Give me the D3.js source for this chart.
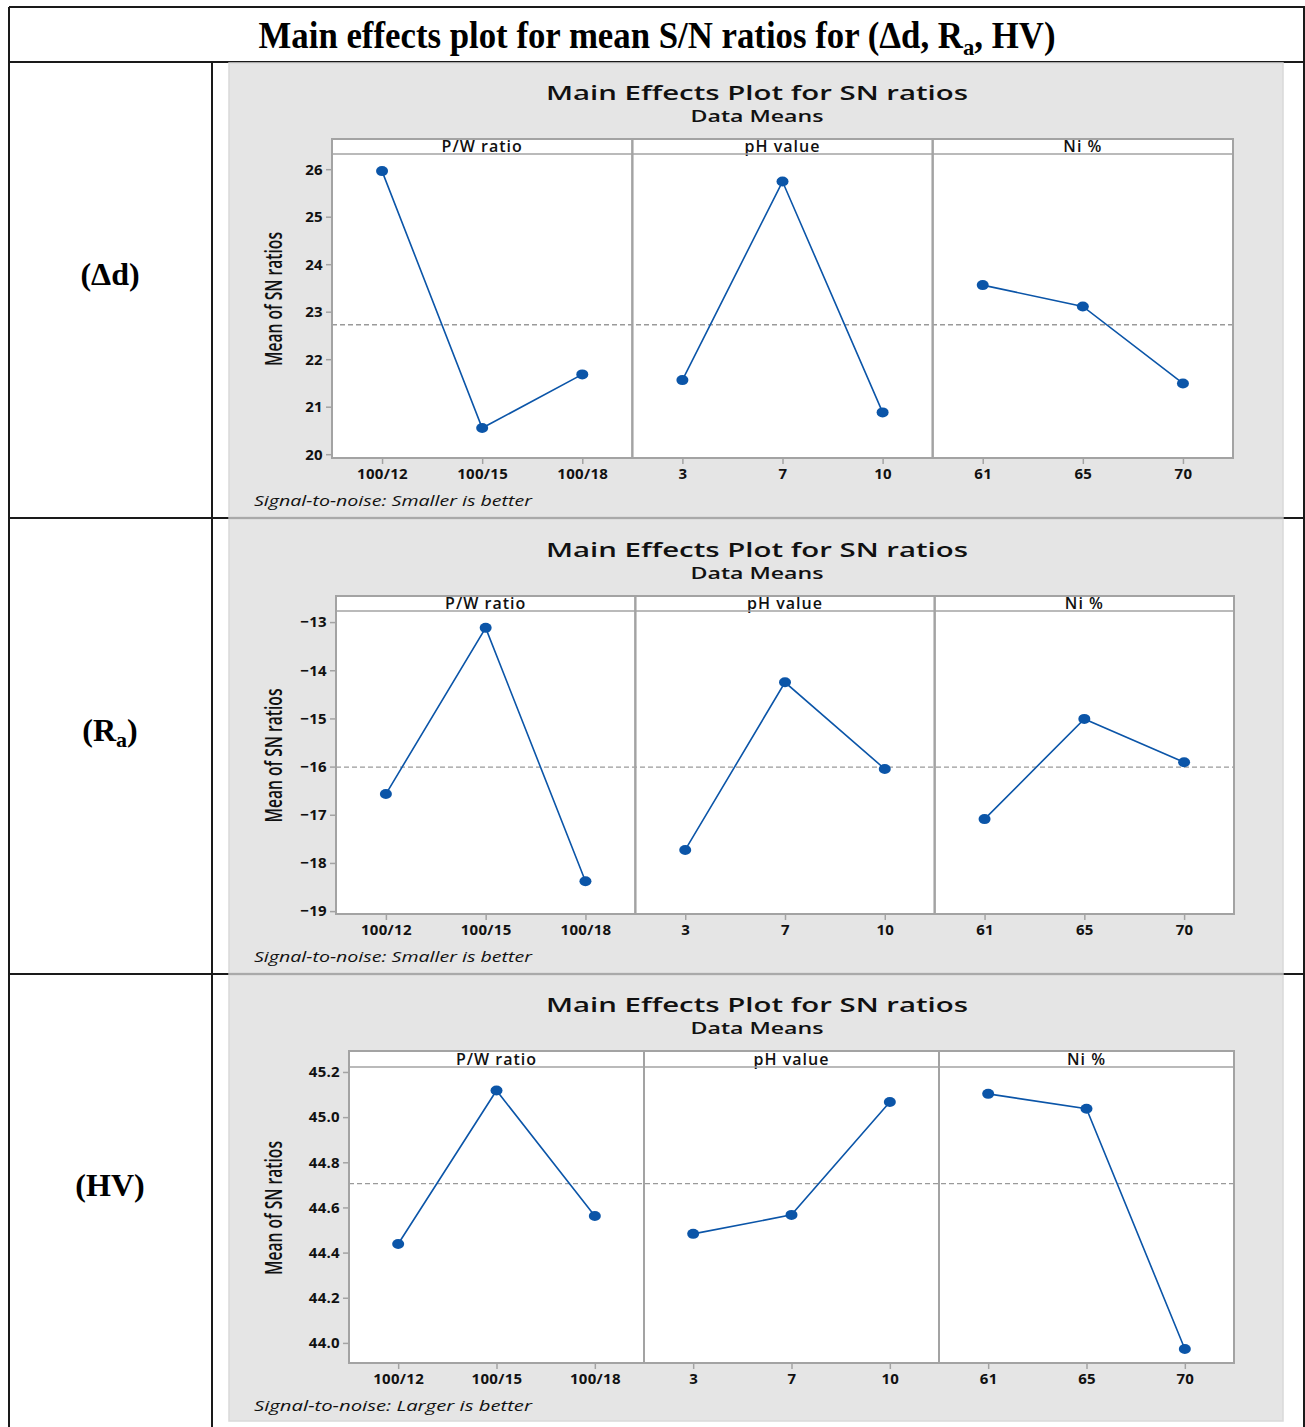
<!DOCTYPE html>
<html>
<head>
<meta charset="utf-8">
<script src="https://cdn.jsdelivr.net/npm/d3@7"></script>
<style>
  html, body { margin: 0; padding: 0; background: #fff; }
  svg { display: block; }
</style>
</head>
<body>
<svg id="chart" width="1305" height="1427"></svg>
<script>
// Factors and their levels (shared by all three responses)
const factors = ["P/W ratio", "pH value", "Ni %"];
const levels = [
  ["100/12", "100/15", "100/18"],
  ["3", "7", "10"],
  ["61", "65", "70"]
];

// Mean S/N ratio per factor level, for each response
const snDelta = [[25.96, 20.55, 21.68], [21.56, 25.74, 20.88], [23.56, 23.11, 21.49]];
const snRa    = [[-16.57, -13.12, -18.38], [-17.73, -14.25, -16.05], [-17.09, -15.01, -15.91]];
const snHV    = [[44.438, 45.118, 44.562], [44.483, 44.567, 45.067], [45.103, 45.037, 43.973]];

// Y axis ticks and extents
const ticksDelta = [20, 21, 22, 23, 24, 25, 26];
const ticksRa    = [-19, -18, -17, -16, -15, -14, -13];
const ticksHV    = [44.0, 44.2, 44.4, 44.6, 44.8, 45.0, 45.2];
const domainDelta = [19.92, 26.32];
const domainRa    = [-19.06, -12.77];
const domainHV    = [43.911, 45.222];

const noteSmaller = "Signal-to-noise: Smaller is better";
const noteLarger  = "Signal-to-noise: Larger is better";

const svg = d3.select("#chart");

const blue = "#0b55a8";
const frame = "#a3a3a3";
const tableLine = "#1a1a1a";
const serif = "'Liberation Serif', 'Times New Roman', serif";
const uiFont = "'Open Sans', 'Noto Sans', sans-serif";

// ---- Table frame ----
const tbl = svg.append("g");
const hLine = (x1, x2, y) => tbl.append("line").attr("x1", x1).attr("x2", x2).attr("y1", y).attr("y2", y)
  .attr("stroke", tableLine).attr("stroke-width", 2);
const vLine = (x, y1, y2) => tbl.append("line").attr("x1", x).attr("x2", x).attr("y1", y1).attr("y2", y2)
  .attr("stroke", tableLine).attr("stroke-width", 2);

// ---- Header title: pieces laid out side by side, then squeezed horizontally ----
const titleG = svg.append("g");
const titleParts = [
  { t: "Main effects plot for mean S/N ratios for (Δd, R", size: 37, dy: 0 },
  { t: "a", size: 24, dy: 7 },
  { t: ", HV)", size: 37, dy: 0 }
];
let cursor = 0;
titleParts.forEach(p => {
  const el = titleG.append("text").attr("x", cursor).attr("y", p.dy)
    .attr("font-family", serif).attr("font-weight", "bold")
    .attr("font-size", p.size).attr("fill", "#000").text(p.t);
  cursor += el.node().getComputedTextLength();
});
const titleW = 797;
const sx = titleW / cursor;
titleG.attr("transform", `translate(${657 - titleW / 2},48) scale(${sx},1)`);

const rows = [
  { key: "delta", label: ["(Δd)"], data: snDelta, ticks: ticksDelta, domain: domainDelta, fmt: d3.format("d"),
    note: noteSmaller, grey: [229, 63, 1283, 517], x0: 332, x1: 1233, top: 139, hdr: 154, bottom: 458, ylab: 274, labY: 274 },
  { key: "ra", label: ["(R", "a", ")"], data: snRa, ticks: ticksRa, domain: domainRa, fmt: d => String(d).replace("-", "\u2212"),
    note: noteSmaller, grey: [229, 519, 1283, 973], x0: 336, x1: 1234, top: 596, hdr: 611, bottom: 914, ylab: 274, labY: 730 },
  { key: "hv", label: ["(HV)"], data: snHV, ticks: ticksHV, domain: domainHV, fmt: d3.format(".1f"),
    note: noteLarger, grey: [229, 975, 1283, 1421], x0: 349, x1: 1234, top: 1051, hdr: 1067, bottom: 1363, ylab: 274, labY: 1185 }
];

rows.forEach(r => {
  const g = svg.append("g").attr("class", "panel-" + r.key);

  // grey plot background
  g.append("rect")
    .attr("x", r.grey[0]).attr("y", r.grey[1])
    .attr("width", r.grey[2] - r.grey[0]).attr("height", r.grey[3] - r.grey[1])
    .attr("fill", "#e5e5e5").attr("stroke", "#d9d9d9").attr("stroke-width", 1.5);

  const cx = (r.grey[0] + r.grey[2]) / 2 + 1;
  g.append("text").attr("x", cx).attr("y", r.top - 39)
    .attr("text-anchor", "middle").attr("font-family", uiFont).attr("font-weight", 600)
    .attr("font-size", 20).attr("fill", "#111")
    .attr("textLength", 422).attr("lengthAdjust", "spacingAndGlyphs")
    .text("Main Effects Plot for SN ratios");
  g.append("text").attr("x", cx).attr("y", r.top - 17)
    .attr("text-anchor", "middle").attr("font-family", uiFont).attr("font-weight", 600)
    .attr("font-size", 17).attr("fill", "#111")
    .attr("textLength", 133).attr("lengthAdjust", "spacingAndGlyphs")
    .text("Data Means");

  // y scale shared by the three facets
  const y = d3.scaleLinear().domain(r.domain).range([r.bottom, r.hdr]);
  const facetW = (r.x1 - r.x0) / 3;

  // white plotting area
  g.append("rect").attr("x", r.x0).attr("y", r.top)
    .attr("width", r.x1 - r.x0).attr("height", r.bottom - r.top).attr("fill", "#fff");

  // grand mean reference line
  const grand = d3.mean(r.data.flat());
  g.append("line").attr("x1", r.x0).attr("x2", r.x1)
    .attr("y1", y(grand)).attr("y2", y(grand))
    .attr("stroke", "#9a9a9a").attr("stroke-width", 1.3).attr("stroke-dasharray", "5,3");

  r.data.forEach((vals, i) => {
    const fx0 = r.x0 + i * facetW;
    const x = d3.scalePoint().domain(levels[i]).range([fx0, fx0 + facetW]).padding(0.5);

    // header strip label
    g.append("text").attr("x", fx0 + facetW / 2).attr("y", r.hdr - 2)
      .attr("text-anchor", "middle").attr("font-family", uiFont).attr("font-weight", 600)
      .attr("font-size", 16).attr("letter-spacing", 1).attr("fill", "#111")
      .text(factors[i]);

    // x axis ticks & labels
    const xa = g.append("g").attr("transform", `translate(0,${r.bottom})`)
      .call(d3.axisBottom(x).tickSize(6).tickPadding(4));
    xa.select(".domain").remove();
    xa.selectAll(".tick line").attr("stroke", frame).attr("stroke-width", 1.5);
    xa.selectAll(".tick text").attr("font-family", uiFont).attr("font-weight", 700)
      .attr("font-size", 15).attr("letter-spacing", 0.3).attr("fill", "#111");

    // connecting line and markers
    const pts = vals.map((v, j) => [x(levels[i][j]), y(v)]);
    g.append("path").attr("d", d3.line()(pts))
      .attr("fill", "none").attr("stroke", blue).attr("stroke-width", 1.6);
    g.selectAll(null).data(vals).enter().append("ellipse")
      .attr("cx", (v, j) => x(levels[i][j])).attr("cy", v => y(v))
      .attr("rx", 6).attr("ry", 5).attr("fill", blue);

    // facet frame
    g.append("rect").attr("x", fx0).attr("y", r.top)
      .attr("width", facetW).attr("height", r.bottom - r.top)
      .attr("fill", "none").attr("stroke", frame).attr("stroke-width", 2);
    g.append("line").attr("x1", fx0).attr("x2", fx0 + facetW)
      .attr("y1", r.hdr).attr("y2", r.hdr).attr("stroke", frame).attr("stroke-width", 1.5);
  });

  // y axis
  const ya = g.append("g").attr("transform", `translate(${r.x0},0)`)
    .call(d3.axisLeft(y).tickValues(r.ticks).tickFormat(r.fmt).tickSize(6).tickPadding(3));
  ya.select(".domain").remove();
  ya.selectAll(".tick line").attr("stroke", frame).attr("stroke-width", 1.5);
  ya.selectAll(".tick text").attr("font-family", uiFont).attr("font-weight", 700)
    .attr("font-size", 15).attr("letter-spacing", 0.3).attr("fill", "#111");

  // y axis title
  const ymid = (r.hdr + r.bottom) / 2 - 7;
  g.append("text")
    .attr("transform", `translate(${r.ylab},${ymid}) rotate(-90)`)
    .attr("text-anchor", "middle").attr("dy", "0.35em")
    .attr("font-family", uiFont).attr("font-weight", 600).attr("font-size", 24).attr("fill", "#111")
    .attr("textLength", 134).attr("lengthAdjust", "spacingAndGlyphs")
    .text("Mean of SN ratios");

  // footnote
  g.append("text").attr("x", 254).attr("y", r.bottom + 48)
    .attr("font-family", uiFont).attr("font-style", "italic")
    .attr("font-size", 15).attr("fill", "#111")
    .attr("textLength", 278).attr("lengthAdjust", "spacingAndGlyphs")
    .text(r.note);

  // row label in the left column
  const lab = svg.append("text").attr("x", 110).attr("y", r.labY + 11)
    .attr("text-anchor", "middle")
    .attr("font-family", serif)
    .attr("font-weight", "bold").attr("font-size", 32).attr("fill", "#000");
  if (r.label.length === 1) {
    lab.text(r.label[0]);
  } else {
    lab.append("tspan").text(r.label[0]);
    lab.append("tspan").attr("dy", 6).attr("font-size", 22).text(r.label[1]);
    lab.append("tspan").attr("dy", -6).text(r.label[2]);
  }
});

// table rules drawn last so they sit above the panels
hLine(9, 1305, 7);
hLine(9, 1305, 62);
hLine(9, 1305, 518);
hLine(9, 1305, 974);
vLine(9, 7, 1427);
vLine(1304, 7, 1427);
vLine(212, 62, 1427);
</script>
</body>
</html>
